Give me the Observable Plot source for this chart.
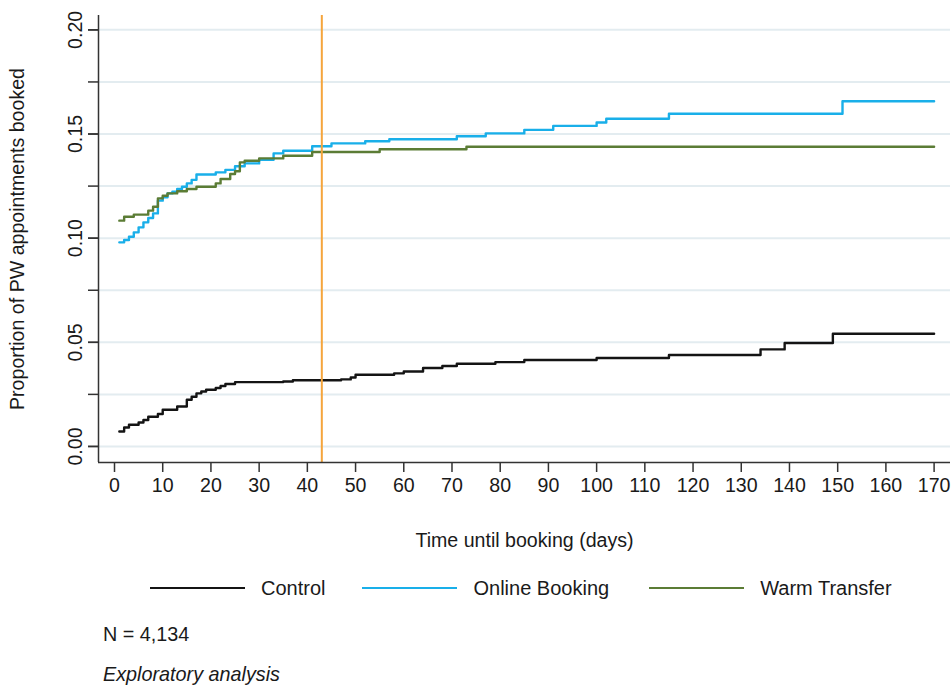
<!DOCTYPE html>
<html>
<head>
<meta charset="utf-8">
<script src="https://cdn.jsdelivr.net/npm/d3@7"></script>
<script src="https://cdn.jsdelivr.net/npm/@observablehq/plot@0.6"></script>
<style>
  html, body { margin: 0; padding: 0; background: #fff; }
  body { width: 952px; height: 685px; position: relative; overflow: hidden;
         font-family: "Liberation Sans", Arial, sans-serif; color: #1a1a1a; }
  #chart { position: absolute; left: 0; top: 0; }
  #legend { position: absolute; left: 150px; top: 576px; display: flex; align-items: center;
            font-size: 20px; line-height: 24px; }
  .sw { display: inline-block; width: 95px; height: 0; margin-right: 16px; }
  .item { display: flex; align-items: center; }
  .note { position: absolute; left: 103px; font-size: 19.8px; line-height: 24px; }
</style>
</head>
<body>
<div id="chart"></div>
<div id="legend"></div>
<div class="note" id="n" style="top:622px"></div>
<div class="note" id="ex" style="top:662px; font-style: italic"></div>
<script>
// ---- data ----
const seriesNames = ["Control", "Online Booking", "Warm Transfer"];
const seriesColors = ["#141414", "#19afe9", "#5b7c35"];

const controlDays  = [1, 2, 3, 5, 6, 7, 9, 10, 13, 15, 16, 17, 18, 19, 21, 22, 23, 25, 35, 37, 47, 49, 50, 58, 60, 64, 68, 71, 79, 85, 100, 115, 134, 139, 149, 170];
const controlProps = [0.0072, 0.0091, 0.0104, 0.0115, 0.0127, 0.0143, 0.0156, 0.0176, 0.0192, 0.0224, 0.0239, 0.0255, 0.0264, 0.0272, 0.0281, 0.0290, 0.0300, 0.0309, 0.0312, 0.0318, 0.0322, 0.0331, 0.0344, 0.0351, 0.0360, 0.0377, 0.0386, 0.0397, 0.0405, 0.0415, 0.0425, 0.0439, 0.0466, 0.0497, 0.0541, 0.0541];

const onlineDays  = [1, 2, 3, 4, 5, 6, 7, 8, 9, 10, 11, 12, 13, 14, 15, 16, 17, 21, 23, 25, 27, 30, 33, 35, 41, 45, 52, 57, 71, 77, 85, 91, 100, 102, 115, 151, 170];
const onlineProps = [0.0980, 0.0991, 0.1007, 0.1028, 0.1052, 0.1076, 0.1097, 0.1119, 0.1180, 0.1196, 0.1215, 0.1223, 0.1236, 0.1247, 0.1263, 0.1280, 0.1306, 0.1316, 0.1328, 0.1345, 0.1359, 0.1376, 0.1407, 0.1420, 0.1441, 0.1455, 0.1465, 0.1475, 0.1489, 0.1503, 0.1520, 0.1539, 0.1555, 0.1573, 0.1597, 0.1657, 0.1657];

const warmDays  = [1, 2, 4, 7, 8, 9, 10, 11, 13, 15, 17, 21, 22, 24, 25, 26, 27, 30, 35, 41, 55, 73, 170];
const warmProps = [0.1084, 0.1103, 0.1113, 0.1132, 0.1151, 0.1191, 0.1204, 0.1215, 0.1225, 0.1236, 0.1247, 0.1263, 0.1284, 0.1308, 0.1321, 0.1364, 0.1372, 0.1383, 0.1396, 0.1414, 0.1427, 0.1439, 0.1439];

const cutoffDay = [43];
const xTicks = [0, 10, 20, 30, 40, 50, 60, 70, 80, 90, 100, 110, 120, 130, 140, 150, 160, 170];
const yTicks = [0, 0.05, 0.10, 0.15, 0.20];
const yGrid  = [0, 0.025, 0.05, 0.075, 0.10, 0.125, 0.15, 0.175, 0.20];
const xDomain = [-3.32, 173.4];
const yDomain = [-0.0077, 0.2069];

const xLabel = "Time until booking (days)";
const yLabel = "Proportion of PW appointments booked";
const noteN = "N = 4,134";
const noteEx = "Exploratory analysis";

// ---- build table ----
const rows = [];
[[controlDays, controlProps], [onlineDays, onlineProps], [warmDays, warmProps]].forEach(([ds, ps], i) => {
  ds.forEach((d, j) => rows.push({series: seriesNames[i], day: d, p: ps[j]}));
});

const chart = Plot.plot({
  width: 952,
  height: 560,
  marginLeft: 98,
  marginRight: 2,
  marginTop: 15,
  marginBottom: 98,
  style: {fontFamily: "'Liberation Sans', Arial, sans-serif", fontSize: "19.6px", color: "#1a1a1a", background: "#fff"},
  x: {domain: xDomain},
  y: {domain: yDomain},
  color: {domain: seriesNames, range: seriesColors},
  marks: [
    Plot.gridY(yGrid, {stroke: "#e3ecf0", strokeOpacity: 1, strokeWidth: 2}),
    Plot.line(rows, {x: "day", y: "p", z: "series", stroke: "series", curve: "step-after", strokeWidth: 2.4}),
    Plot.ruleX(cutoffDay, {stroke: "#f5a53c", strokeWidth: 2}),
    Plot.ruleX([xDomain[0]], {stroke: "#333", strokeWidth: 1.5}),
    Plot.ruleY([yDomain[0]], {stroke: "#333", strokeWidth: 1.5}),
    Plot.axisX({ticks: xTicks, tickSize: 10, tickPadding: 6, tickFormat: d3.format("d"),
                label: xLabel, labelAnchor: "center", labelArrow: "none", labelOffset: 84, stroke: "#333", strokeWidth: 1.5}),
    Plot.axisY({ticks: yTicks, tickSize: 10, tickPadding: 7, tickRotate: -90, tickFormat: d3.format(".2f"),
                label: yLabel, labelAnchor: "center", labelArrow: "none", labelOffset: 88, stroke: "#333", strokeWidth: 1.5}),
    Plot.axisY({ticks: yGrid, tickSize: 10, tickFormat: () => "", label: null, stroke: "#333", strokeWidth: 1.5})
  ]
});
document.getElementById("chart").appendChild(chart);

// ---- legend ----
const legend = document.getElementById("legend");
const gaps = ["37px", "40px", "0px"];
seriesNames.forEach((name, i) => {
  const item = document.createElement("div");
  item.className = "item";
  item.style.marginRight = gaps[i];
  const sw = document.createElement("span");
  sw.className = "sw";
  sw.style.borderTop = `2.5px solid ${seriesColors[i]}`;
  const lab = document.createElement("span");
  lab.textContent = name;
  item.appendChild(sw); item.appendChild(lab);
  legend.appendChild(item);
});
document.getElementById("n").textContent = noteN;
document.getElementById("ex").textContent = noteEx;
</script>
</body>
</html>
